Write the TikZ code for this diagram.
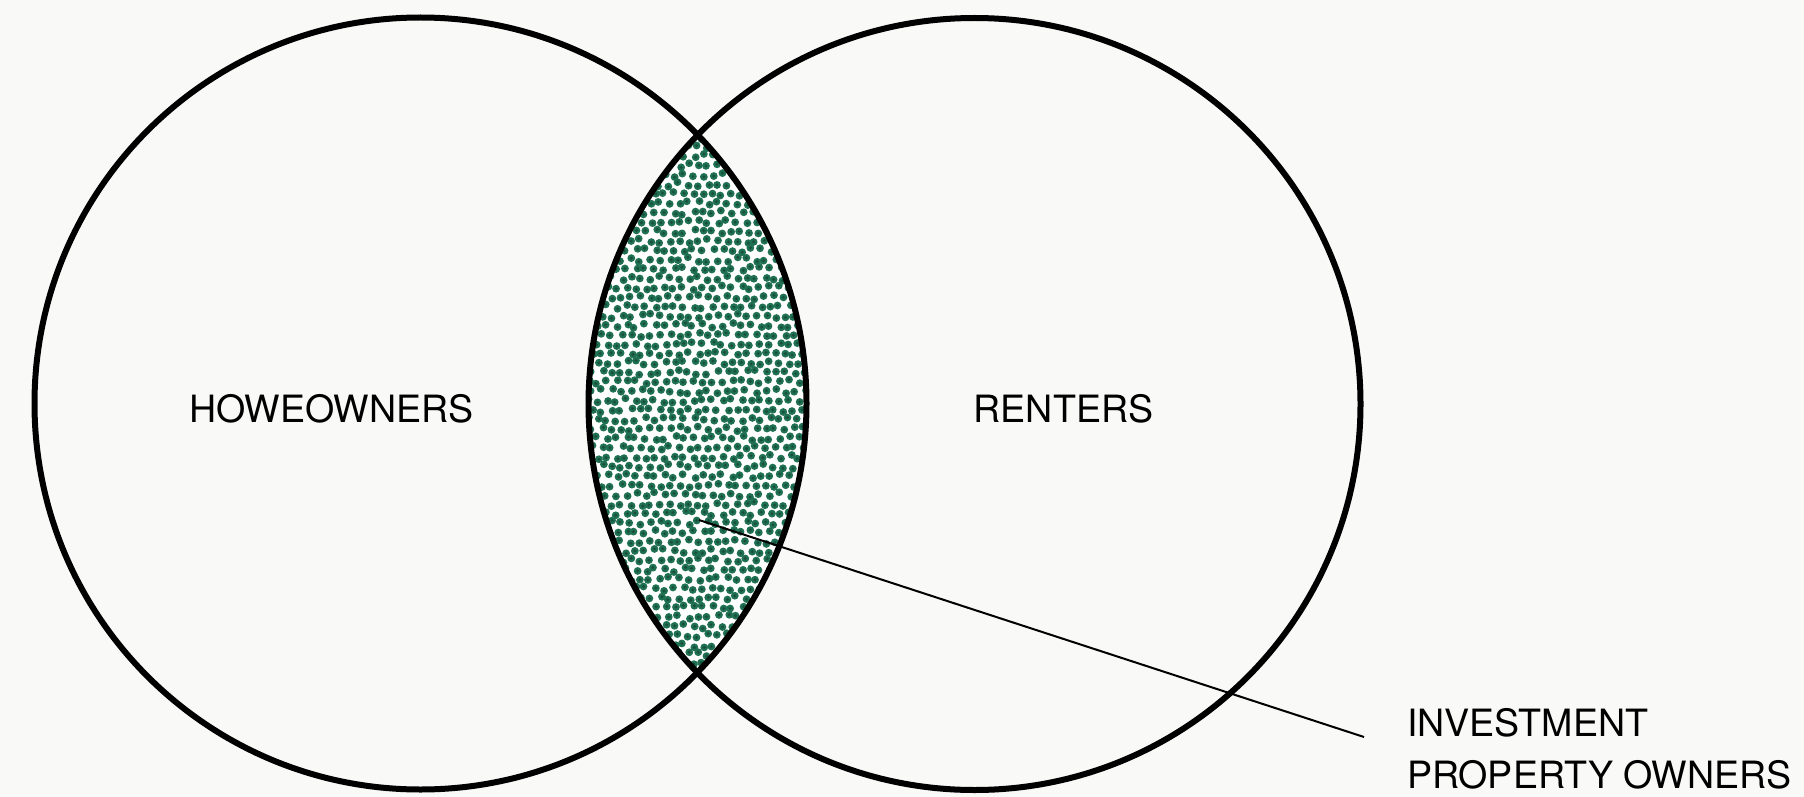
\documentclass[tikz,border=0pt]{standalone}
\usepackage{fontspec}
\setmainfont{TeX Gyre Heros}
\definecolor{paper}{RGB}{249,249,248}
\definecolor{dotgreen}{RGB}{32,112,82}
\definecolor{dotcore}{RGB}{24,78,64}
\tikzset{
  ring/.style={draw=black,line width=6pt},
  lbl/.style={inner sep=0pt,font=\fontsize{37.6}{52}\selectfont,text=black,draw=black,draw opacity=0,line width=0pt},
  leader/.style={draw=black,line width=2pt}
}
\begin{document}
\begin{tikzpicture}[x=1pt,y=-1pt]
\fill[paper] (0,0) rectangle (1804,797);
\useasboundingbox (0,0) rectangle (1804,797);
\coordinate (cL) at (420.5,403.5);
\coordinate (cR) at (974.5,404);
% lens texture
\begin{scope}
  \clip (cL) circle[radius=386pt];
  \clip (cR) circle[radius=386pt];
  \fill[white] (580,120) rectangle (820,690);
  \pgfmathsetseed{7}
  \foreach \j in {0,...,58} {
    \foreach \i in {0,...,24} {
      \pgfmathsetmacro\xx{583+\i*9.6+mod(\j,2)*4.8+rand*2.4}
      \pgfmathsetmacro\yy{128+\j*9.4+rand*2.4}
      \fill[dotgreen] (\xx,\yy) circle[radius=3.9pt];
      \fill[dotcore] (\xx,\yy) circle[radius=1.6pt];
    }
  }
\end{scope}
\draw[ring] (cL) circle[radius=386pt];
\draw[ring] (cR) circle[radius=386pt];
\node[lbl,anchor=base] (home) at (331.5,422) {HOWEOWNERS};
\node[lbl,anchor=base] (rent) at (1063.5,422) {RENTERS};
\node[lbl,anchor=north west,align=left] (inv) at (1407,708) {INVESTMENT\\PROPERTY OWNERS};
\coordinate (p) at (699,520);
\coordinate (q) at (1364,737);
\draw[leader] (p) -- (q);
\end{tikzpicture}
\end{document}
